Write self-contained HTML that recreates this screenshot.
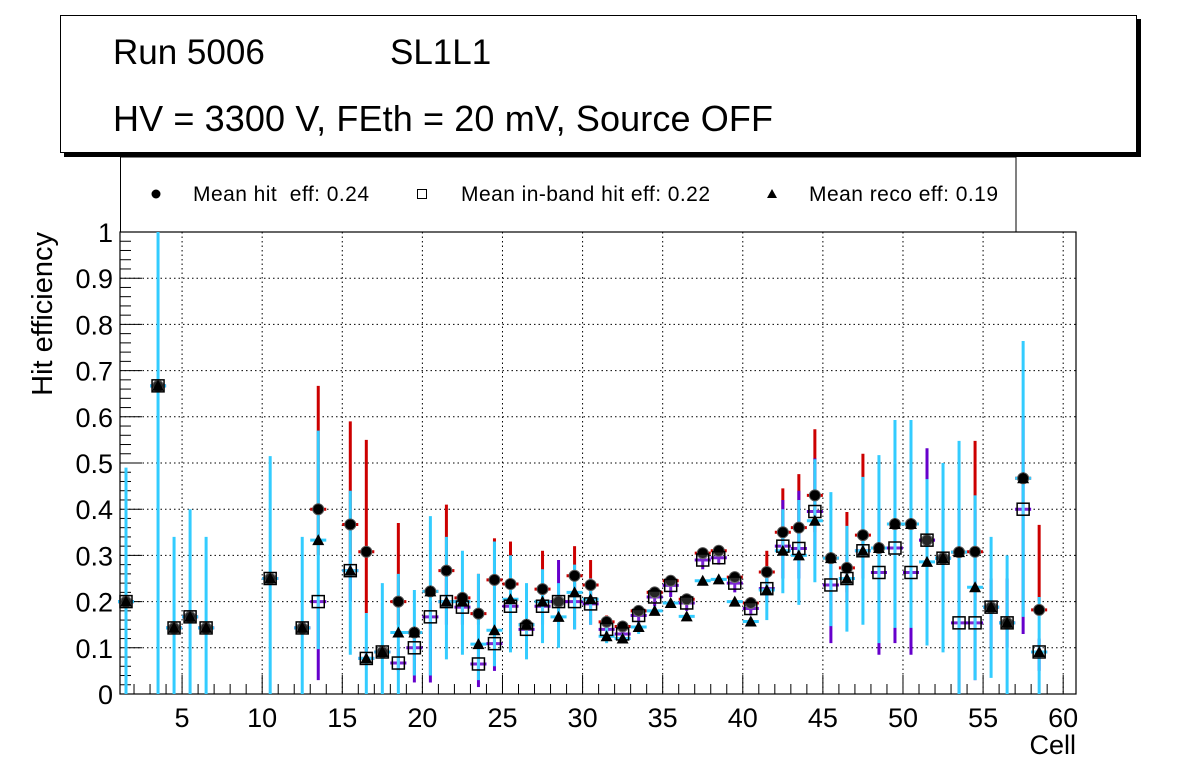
<!DOCTYPE html>
<html><head><meta charset="utf-8"><style>
body{margin:0;background:#fff;width:1196px;height:772px;overflow:hidden;font-family:"Liberation Sans",sans-serif}
</style></head><body>
<svg id="c" width="1196" height="772" xmlns="http://www.w3.org/2000/svg" font-family="Liberation Sans, sans-serif">
<rect x="64" y="19" width="1077" height="138" fill="#000"/>
<rect x="60.5" y="15.5" width="1076" height="137" fill="#fff" stroke="#000"/>
<text x="113" y="64" font-size="35">Run 5006</text>
<text x="390" y="64" font-size="35">SL1L1</text>
<text x="113" y="131" font-size="36" textLength="660">HV = 3300 V, FEth = 20 mV, Source OFF</text>
<g>
<rect x="120.5" y="157" width="895.5" height="75" fill="#fff" stroke="#000"/>
<circle cx="156" cy="194" r="4.5" fill="#000"/>
<text x="193" y="201" font-size="21" textLength="176">Mean hit&#160; eff: 0.24</text>
<rect x="417.5" y="189.5" width="9" height="9" fill="#fff" stroke="#000"/>
<text x="461" y="201" font-size="21" textLength="249">Mean in-band hit eff: 0.22</text>
<polygon points="772,189 767,198 777,198" fill="#000"/>
<text x="809" y="201" font-size="21" textLength="189">Mean reco eff: 0.19</text>
</g>
<g id="axes"></g>
<g id="marks"></g>
<text x="1076" y="754" font-size="27" text-anchor="end">Cell</text>
<text transform="translate(52,232) rotate(-90)" font-size="29" text-anchor="end">Hit efficiency</text>
</svg>
<script>
const cells  = [1,3,4,5,6,10,12,13,15,16,17,18,19,20,21,22,23,24,25,26,27,28,29,30,31,32,33,34,35,36,37,38,39,40,41,42,43,44,45,46,47,48,49,50,51,52,53,54,55,56,57,58];
const hit    = [0.2,0.667,0.143,0.167,0.143,0.25,0.143,0.4,0.367,0.308,0.091,0.2,0.133,0.222,0.267,0.208,0.174,0.247,0.238,0.15,0.227,0.2,0.256,0.236,0.156,0.146,0.18,0.22,0.245,0.205,0.305,0.31,0.253,0.197,0.264,0.35,0.36,0.43,0.294,0.273,0.344,0.316,0.368,0.368,0.333,0.294,0.307,0.308,0.188,0.154,0.467,0.182];
const hitHi  = [0.2,0.667,0.143,0.167,0.143,0.25,0.143,0.667,0.59,0.55,0.091,0.37,0.133,0.222,0.41,0.208,0.26,0.337,0.33,0.15,0.31,0.2,0.32,0.29,0.17,0.146,0.18,0.22,0.245,0.205,0.305,0.31,0.253,0.21,0.31,0.445,0.476,0.573,0.294,0.394,0.52,0.316,0.368,0.368,0.333,0.294,0.307,0.548,0.188,0.154,0.467,0.366];
const hitLo  = [0.2,0.667,0.143,0.167,0.143,0.25,0.143,0.3,0.3,0.175,0.091,0.15,0.133,0.222,0.2,0.208,0.15,0.2,0.2,0.15,0.2,0.2,0.22,0.2,0.13,0.146,0.18,0.22,0.245,0.205,0.305,0.31,0.253,0.18,0.24,0.3,0.3,0.35,0.294,0.22,0.3,0.316,0.368,0.368,0.333,0.294,0.307,0.2,0.188,0.154,0.467,0.2];
const inband = [0.2,0.667,0.143,0.167,0.143,0.25,0.143,0.2,0.267,0.077,0.091,0.067,0.1,0.167,0.2,0.188,0.065,0.109,0.19,0.14,0.19,0.2,0.2,0.195,0.14,0.13,0.17,0.21,0.235,0.197,0.29,0.295,0.24,0.185,0.228,0.32,0.315,0.395,0.236,0.25,0.31,0.263,0.316,0.263,0.333,0.294,0.154,0.154,0.188,0.154,0.4,0.091];
const inLo   = [0.2,0.667,0.143,0.167,0.143,0.25,0.143,0.03,0.2,0.077,0.091,0.05,0.025,0.025,0.15,0.15,0.015,0.05,0.15,0.1,0.15,0.15,0.14,0.15,0.12,0.12,0.15,0.19,0.21,0.18,0.27,0.28,0.22,0.17,0.2,0.25,0.25,0.3,0.11,0.2,0.25,0.085,0.11,0.085,0.2,0.2,0,0.03,0.1,0.1,0.13,0.05];
const inHi   = [0.2,0.667,0.143,0.167,0.143,0.25,0.143,0.2,0.3,0.1,0.091,0.1,0.12,0.2,0.25,0.22,0.1,0.15,0.22,0.16,0.22,0.29,0.24,0.22,0.15,0.14,0.18,0.22,0.24,0.2,0.3,0.3,0.25,0.2,0.25,0.42,0.44,0.51,0.3,0.3,0.4,0.4,0.5,0.5,0.532,0.4,0.4,0.4,0.25,0.25,0.6,0.12];
const reco   = [0.2,0.667,0.143,0.167,0.143,0.25,0.143,0.333,0.267,0.077,0.091,0.133,0.133,0.222,0.2,0.2,0.108,0.138,0.205,0.15,0.2,0.167,0.22,0.205,0.125,0.12,0.145,0.18,0.197,0.168,0.245,0.248,0.2,0.157,0.225,0.31,0.3,0.375,0.294,0.25,0.31,0.316,0.368,0.368,0.286,0.294,0.307,0.231,0.188,0.154,0.467,0.091];
const recoLo = [0,0,0,0,0,0,0,0.097,0.085,0,0,0,0.04,0.04,0.075,0.085,0.03,0.06,0.09,0.075,0.11,0.1,0.14,0.15,0.11,0.11,0.13,0.17,0.19,0.16,0.24,0.24,0.19,0.15,0.16,0.218,0.193,0.242,0.147,0.135,0.15,0.11,0.143,0.143,0.105,0.09,0,0.03,0.035,0,0.167,0];
const recoHi = [0.49,1,0.34,0.4,0.34,0.515,0.34,0.57,0.44,0.175,0.24,0.26,0.225,0.385,0.34,0.31,0.26,0.33,0.3,0.24,0.27,0.24,0.28,0.25,0.16,0.13,0.155,0.19,0.2,0.175,0.25,0.255,0.205,0.165,0.275,0.4,0.42,0.508,0.437,0.364,0.47,0.517,0.593,0.593,0.465,0.5,0.548,0.43,0.34,0.3,0.764,0.21];
const xTicks = [5,10,15,20,25,30,35,40,45,50,55,60];
const yTicks = [0,0.1,0.2,0.3,0.4,0.5,0.6,0.7,0.8,0.9,1];
const yTickLabels = ["0","0.1","0.2","0.3","0.4","0.5","0.6","0.7","0.8","0.9","1"];

const NS='http://www.w3.org/2000/svg';
const X0=120,X1=1076,Y0=694,Y1=232,XMIN=1.125,XMAX=60.8;
function sx(v){return X0+(v-XMIN)/(XMAX-XMIN)*(X1-X0);}
function sy(v){return Y0-v*(Y0-Y1);}
function mk(tag,attrs,parent){const e=document.createElementNS(NS,tag);for(const k in attrs)e.setAttribute(k,attrs[k]);parent.appendChild(e);return e;}
const ax=document.getElementById('axes'), mg=document.getElementById('marks');
for(const t of xTicks){const l=mk('line',{x1:sx(t),x2:sx(t),y1:Y1,y2:Y0,stroke:'#000','stroke-dasharray':'1.5,3','stroke-width':1},ax);

}
for(const t of yTicks.slice(1,-1)){const l=mk('line',{x1:X0,x2:X1,y1:sy(t),y2:sy(t),stroke:'#000','stroke-dasharray':'1.5,3','stroke-width':1},ax);

}
const fr=mk('rect',{x:X0,y:Y1,width:X1-X0,height:Y0-Y1,fill:'none',stroke:'#000','stroke-width':1.2},ax);


for(let v=2;v<=60;v++){const major=v%5===0;mk('line',{x1:sx(v),x2:sx(v),y1:Y0,y2:Y0-(major?19:10),stroke:'#000'},ax);}
for(const t of xTicks){const tx=mk('text',{x:sx(t),y:727,'font-size':27,'text-anchor':'middle'},ax);tx.textContent=t;

}
for(let i=0;i<=50;i++){const v=i/50;const major=i%5===0;mk('line',{x1:X0,x2:X0+(major?22:11),y1:sy(v),y2:sy(v),stroke:'#000'},ax);}
yTicks.forEach((t,i)=>{const tx=mk('text',{x:113,y:sy(t)+10,'font-size':27,'text-anchor':'end'},ax);tx.textContent=yTickLabels[i];

});
function bars(vals,lo,hi,col,name){cells.forEach((c,i)=>{const x=sx(c+0.5);const g=mk('g',{},mg);


mk('line',{x1:x,x2:x,y1:sy(lo[i]),y2:sy(hi[i]),stroke:col,'stroke-width':3},g);
mk('line',{x1:sx(c),x2:sx(c+1),y1:sy(vals[i]),y2:sy(vals[i]),stroke:col,'stroke-width':3},g);});}
bars(hit,hitLo,hitHi,'#cc0000','hit-error-bar');
bars(inband,inLo,inHi,'#6600cc','inband-error-bar');
bars(reco,recoLo,recoHi,'#33ccff','reco-error-bar');
cells.forEach((c,i)=>{const x=sx(c+0.5);
const p=mk('circle',{cx:x,cy:sy(hit[i]),r:5.5,fill:'#000',stroke:'#555','stroke-width':1},mg);

});
cells.forEach((c,i)=>{const x=sx(c+0.5),y=sy(inband[i]);
const p=mk('rect',{x:x-6,y:y-6,width:12,height:12,fill:'#fff','fill-opacity':0.15,stroke:'#000','stroke-width':1.5},mg);

});
cells.forEach((c,i)=>{const x=sx(c+0.5),y=sy(reco[i]);
const p=mk('polygon',{points:`${x},${y-6} ${x-6},${y+5} ${x+6},${y+5}`,fill:'#000'},mg);

});
</script>
</body></html>
